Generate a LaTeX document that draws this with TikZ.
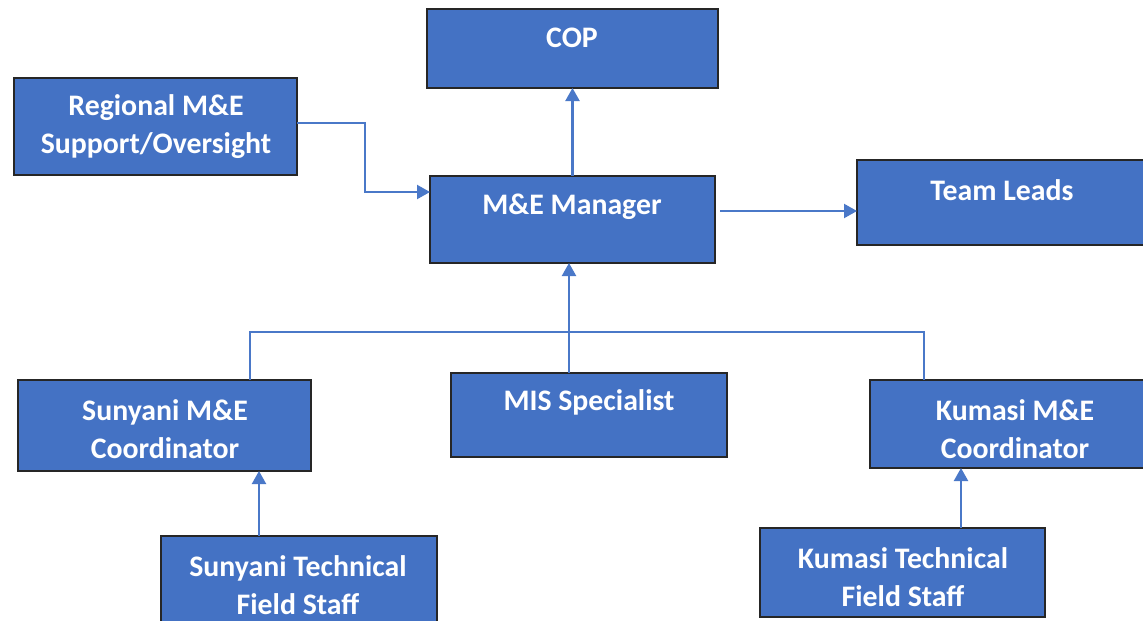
\documentclass[tikz,border=0pt]{standalone}
\usepackage{fontspec}
\setmainfont{Carlito}
\usetikzlibrary{arrows.meta,calc}
\definecolor{boxfill}{HTML}{4472C4}
\definecolor{boxline}{HTML}{262626}
\definecolor{connc}{HTML}{4A78C8}
\tikzset{
  orgbox/.style={draw=boxline, line width=2.2pt, fill=boxfill, inner sep=0pt, outer sep=0pt, anchor=north west},
  lbl/.style={text=white, font=\bfseries\fontsize{29.8}{38}\selectfont, align=center, inner sep=0pt},
  conn/.style={draw=connc, line width=2.2pt},
  arr/.style={conn, -{Triangle[length=13pt,width=14pt]}}
}
\begin{document}
\begin{tikzpicture}[x=1pt,y=-1pt]
\useasboundingbox (0,0) rectangle (1143,621);
\clip (0,0) rectangle (1143,621);
% boxes
\node[orgbox, minimum width=291pt, minimum height=79pt] (cop) at (427,9) {};
\node[orgbox, minimum width=283pt, minimum height=97pt] (reg) at (14,78) {};
\node[orgbox, minimum width=285pt, minimum height=87pt] (mgr) at (430,176) {};
\node[orgbox, minimum width=300pt, minimum height=85pt] (team) at (857,160) {};
\node[orgbox, minimum width=293pt, minimum height=91pt] (suncoord) at (18,380) {};
\node[orgbox, minimum width=276pt, minimum height=84pt] (mis) at (451,373) {};
\node[orgbox, minimum width=290pt, minimum height=88pt] (kumcoord) at (870,380) {};
\node[orgbox, minimum width=276pt, minimum height=100pt] (suntech) at (161,536) {};
\node[orgbox, minimum width=285pt, minimum height=89pt] (kumtech) at (760,528) {};
% labels
\node[lbl] (copt) at (572,38) {COP};
\node[lbl] (regt) at (156,127) {Regional M\&E\\Support/Oversight};
\node[lbl] (mgrt) at (572,207) {M\&E Manager};
\node[lbl] (teamt) at (1002,190) {Team Leads};
\node[lbl] (sunct) at (165,429) {Sunyani M\&E\\Coordinator};
\node[lbl] (mist) at (589,402) {MIS Specialist};
\node[lbl] (kumct) at (1015,429) {Kumasi M\&E\\Coordinator};
\node[lbl] (suntt) at (298,585) {Sunyani Technical\\Field Staff};
\node[lbl] (kumtt) at (903,577) {Kumasi Technical\\Field Staff};
% helper coordinates
\coordinate (regy) at (0,123);
\coordinate (regx) at (365,192);
\coordinate (teamy) at (720,211);
\coordinate (misx) at (569,0);
\coordinate (bus) at (0,332);
\coordinate (sunx) at (250,0);
\coordinate (kumx) at (924,0);
\coordinate (suntx) at (259,0);
\coordinate (kumtx) at (961,0);
% connectors
\draw[arr] (mgr.north) -- (cop.south);
\draw[arr] (reg.east |- regy) -| (regx) -- (mgr.west |- regx);
\draw[arr] (teamy) -- (team.west |- teamy);
\draw[arr] (mis.north -| misx) -- (mgr.south -| misx);
\draw[conn] (suncoord.north -| sunx) -- (bus -| sunx) -- (bus -| kumx) -- (kumcoord.north -| kumx);
\draw[arr] (suntech.north -| suntx) -- (suncoord.south -| suntx);
\draw[arr] (kumtech.north -| kumtx) -- (kumcoord.south -| kumtx);
\end{tikzpicture}
\end{document}
